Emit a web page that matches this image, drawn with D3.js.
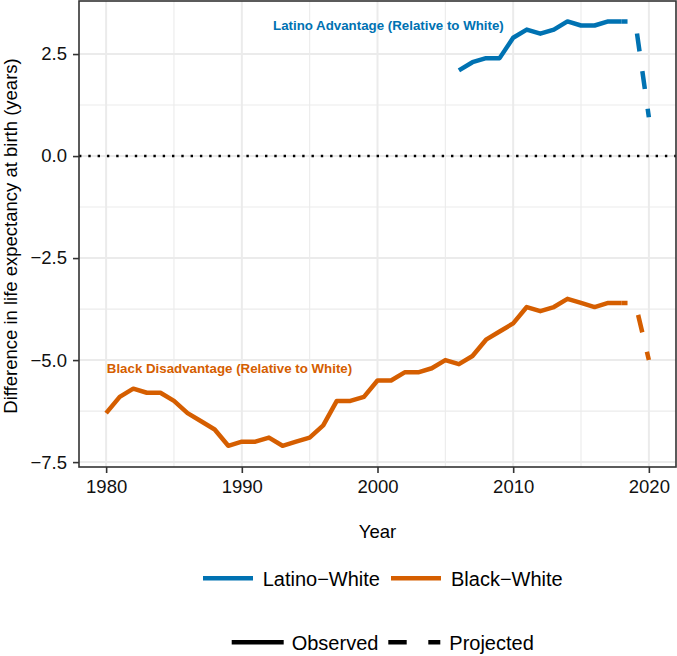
<!DOCTYPE html>
<html><head><meta charset="utf-8">
<script src="https://cdn.jsdelivr.net/npm/d3@7"></script>
<style>
body{margin:0;background:#fff}
text{font-family:"Liberation Sans",Arial,Helvetica,sans-serif}
</style>
</head><body>
<svg id="c" width="677" height="656"></svg>
<script>
// ---- data ----
const blackYears = [1980,1981,1982,1983,1984,1985,1986,1987,1988,1989,1990,1991,1992,1993,1994,1995,1996,1997,1998,1999,2000,2001,2002,2003,2004,2005,2006,2007,2008,2009,2010,2011,2012,2013,2014,2015,2016,2017,2018];
const blackValues = [-6.3,-5.9,-5.7,-5.8,-5.8,-6.0,-6.3,-6.5,-6.7,-7.1,-7.0,-7.0,-6.9,-7.1,-7.0,-6.9,-6.6,-6.0,-6.0,-5.9,-5.5,-5.5,-5.3,-5.3,-5.2,-5.0,-5.1,-4.9,-4.5,-4.3,-4.1,-3.7,-3.8,-3.7,-3.5,-3.6,-3.7,-3.6,-3.6];
const latinoYears = [2006,2007,2008,2009,2010,2011,2012,2013,2014,2015,2016,2017,2018];
const latinoValues = [2.1,2.3,2.4,2.4,2.9,3.1,3.0,3.1,3.3,3.2,3.2,3.3,3.3];
const projYears = [2018,2019,2020];
const latinoProjected = [3.3,3.3,0.95];
const blackProjected = [-3.6,-3.6,-5.0];

const xMajorTicks = [1980,1990,2000,2010,2020];
const xMinorTicks = [1985,1995,2005,2015];
const yMajorTicks = [-7.5,-5.0,-2.5,0.0,2.5];
const yMinorTicks = [-6.25,-3.75,-1.25,1.25];

const seriesNames = ["Latino\u2212White","Black\u2212White"];
const typeNames = ["Observed","Projected"];
const annotations = [
  {text:"Latino Advantage (Relative to White)", x:1992.3, y:3.2, series:0},
  {text:"Black Disadvantage (Relative to White)", x:1980.05, y:-5.2, series:1}
];

// ---- styles ----
const colors = ["#0072B2","#D55E00"];
const svg = d3.select("#c");
const L=79, R=676, T=1, B=467;
const x = d3.scaleLinear().domain([1978,2022]).range([L,R]);
const y = d3.scaleLinear().domain([-7.62,3.8]).range([B,T]);

// grid
const g = svg.append("g");
g.selectAll(".xminor").data(xMinorTicks).join("line")
  .attr("x1",d=>x(d)).attr("x2",d=>x(d)).attr("y1",T).attr("y2",B)
  .attr("stroke","#ebebeb").attr("stroke-width",1.1);
g.selectAll(".yminor").data(yMinorTicks).join("line")
  .attr("y1",d=>y(d)).attr("y2",d=>y(d)).attr("x1",L).attr("x2",R)
  .attr("stroke","#ebebeb").attr("stroke-width",1.1);
g.selectAll(".xmajor").data(xMajorTicks).join("line")
  .attr("x1",d=>x(d)).attr("x2",d=>x(d)).attr("y1",T).attr("y2",B)
  .attr("stroke","#ebebeb").attr("stroke-width",2);
g.selectAll(".ymajor").data(yMajorTicks).join("line")
  .attr("y1",d=>y(d)).attr("y2",d=>y(d)).attr("x1",L).attr("x2",R)
  .attr("stroke","#ebebeb").attr("stroke-width",2);

// zero line
svg.append("line").attr("x1",L).attr("x2",R).attr("y1",y(0)).attr("y2",y(0))
  .attr("stroke","#000").attr("stroke-width",2.4).attr("stroke-dasharray","2.4,6.9");

// lines
const line = d3.line().x(d=>x(d[0])).y(d=>y(d[1]));
const obs = [d3.zip(latinoYears,latinoValues), d3.zip(blackYears,blackValues)];
const proj = [d3.zip(projYears,latinoProjected), d3.zip(projYears,blackProjected)];
obs.forEach((d,i)=>{
  svg.append("path").attr("d",line(d)).attr("fill","none")
    .attr("stroke",colors[i]).attr("stroke-width",4.5)
    .attr("stroke-linejoin","round").attr("stroke-linecap","butt");
});
proj.forEach((d,i)=>{
  svg.append("path").attr("d",line(d)).attr("fill","none")
    .attr("stroke",colors[i]).attr("stroke-width",4.5)
    .attr("stroke-linejoin","round").attr("stroke-linecap","butt")
    .attr("stroke-dasharray","18,20").attr("stroke-dashoffset",12.2);
});

// annotations
svg.selectAll(".ann").data(annotations).join("text")
  .attr("x",d=>x(d.x)).attr("y",d=>y(d.y)+4.7)
  .attr("fill",d=>colors[d.series]).attr("font-weight","bold")
  .attr("font-size","13.3px").text(d=>d.text);

// panel border
svg.append("rect").attr("x",L).attr("y",T).attr("width",R-L).attr("height",B-T)
  .attr("fill","none").attr("stroke","#333").attr("stroke-width",1.6);

// axes
const xAxis = svg.append("g").attr("transform",`translate(0,${B})`)
  .call(d3.axisBottom(x).tickValues(xMajorTicks).tickFormat(d3.format("d")).tickSize(6).tickPadding(7));
const yAxis = svg.append("g").attr("transform",`translate(${L},0)`)
  .call(d3.axisLeft(y).tickValues(yMajorTicks).tickFormat(d=>d3.format(".1f")(d).replace("-","\u2212")).tickSize(6).tickPadding(6));
[xAxis,yAxis].forEach(a=>{
  a.select(".domain").remove();
  a.selectAll(".tick line").attr("stroke","#333").attr("stroke-width",1.6);
  a.selectAll(".tick text").attr("fill","#111").attr("font-size","18.5px")
    .attr("font-family","'Liberation Sans',Arial,Helvetica,sans-serif");
});

// axis titles
svg.append("text").attr("x",(L+R)/2).attr("y",538).attr("text-anchor","middle")
  .attr("font-size","18.5px").attr("fill","#000").text("Year");
svg.append("text").attr("transform","translate(17.3,236) rotate(-90)")
  .attr("text-anchor","middle").attr("font-size","18.5px").attr("fill","#000")
  .text("Difference in life expectancy at birth (years)");

// legends
const leg1 = [{x:203, tx:262.7}, {x:391, tx:451}];
leg1.forEach((p,i)=>{
  svg.append("line").attr("x1",p.x).attr("x2",p.x+50).attr("y1",578.3).attr("y2",578.3)
    .attr("stroke",colors[i]).attr("stroke-width",4.5);
  svg.append("text").attr("x",p.tx).attr("y",585.5).attr("font-size","20px")
    .attr("fill","#000").text(seriesNames[i]);
});
const leg2 = [{x:231.7, tx:291.7, dash:null}, {x:388.3, tx:449.3, dash:"18.4,21.6"}];
leg2.forEach((p,i)=>{
  const ln = svg.append("line").attr("x1",p.x).attr("x2",p.x+52).attr("y1",642.3).attr("y2",642.3)
    .attr("stroke","#000").attr("stroke-width",4.5);
  if(p.dash) ln.attr("stroke-dasharray",p.dash);
  svg.append("text").attr("x",p.tx).attr("y",649.5).attr("font-size","20px")
    .attr("fill","#000").text(typeNames[i]);
});
</script>
</body></html>
